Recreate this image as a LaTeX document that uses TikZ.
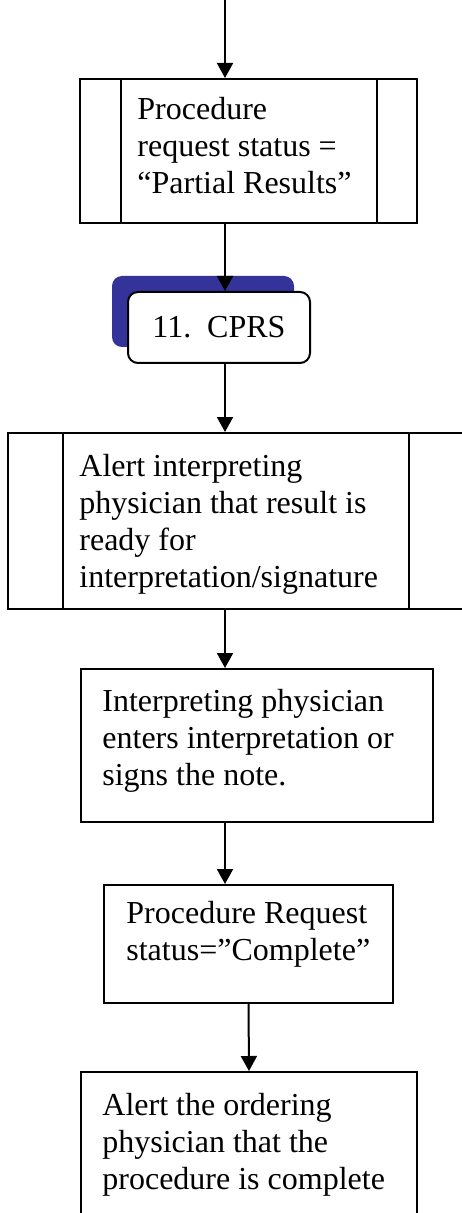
\documentclass[tikz,border=0pt]{standalone}
\usepackage{fontspec}
\setmainfont{Liberation Serif}
\usetikzlibrary{arrows.meta}
\definecolor{shadowblue}{RGB}{51,51,153}

\begin{document}
\begin{tikzpicture}[x=0.5pt,y=-0.5pt,
    box/.style={draw, line width=1pt, inner sep=0pt},
    txt/.style={anchor=north west, inner sep=0pt, align=left, font=\fontsize{16pt}{18.4pt}\selectfont},
    arr/.style={line width=1pt, -{Triangle[width=8pt,length=7.5pt]}}]
    \useasboundingbox (0,0) rectangle (461,1213);

    \coordinate (start) at (225,0);
    \coordinate (col) at (225,0);

    % procedure request status = partial results
    \node[box, minimum width=168.5pt, minimum height=72pt] (partial) at (248.5,151) {};
    \draw[line width=1pt] (121,79) -- (121,223);
    \draw[line width=1pt] (377,79) -- (377,223);
    \node[txt] (tpartial) at (137,97) {Procedure\\request status =\\“Partial Results”};

    % CPRS
    \node[fill=shadowblue, rounded corners=5pt, minimum width=91pt, minimum height=35.5pt] (shadow) at (203,311.5) {};
    \node[box, fill=white, rounded corners=5pt, minimum width=91pt, minimum height=35.5pt,
          font=\fontsize{16pt}{18.4pt}\selectfont] (cprs) at (219,327.5) {11.\ \ CPRS};

    % alert interpreting physician
    \node[box, minimum width=228pt, minimum height=88pt] (alert) at (236,521) {};
    \draw[line width=1pt] (63,433) -- (63,609);
    \draw[line width=1pt] (409,433) -- (409,609);
    \node[txt] (talert) at (79,454) {Alert interpreting\\physician that result is\\ready for\\interpretation/signature};

    % interpretation
    \node[box, minimum width=176pt, minimum height=76.5pt] (interp) at (257,745.5) {};
    \node[txt] (tinterp) at (102,689) {Interpreting physician\\enters interpretation or\\signs the note.};

    % complete
    \node[box, minimum width=144.5pt, minimum height=59pt] (complete) at (248.5,944) {};
    \node[txt] (tcomplete) at (126,901) {Procedure Request\\status=”Complete”};

    % alert ordering physician
    \node[box, minimum width=168pt, minimum height=79pt] (order) at (249,1151) {};
    \node[txt] (torder) at (102,1093) {Alert the ordering\\physician that the\\procedure is complete};

    % arrows
    \draw[arr] (start) -- (partial.north -| col);
    \draw[arr] (partial.south -| col) -- (cprs.north -| col);
    \draw[arr] (cprs.south -| col) -- (alert.north -| col);
    \draw[arr] (alert.south -| col) -- (interp.north -| col);
    \draw[arr] (interp.south -| col) -- (complete.north -| col);
    \draw[arr] (complete.south) -- (order.north);
\end{tikzpicture}
\end{document}
